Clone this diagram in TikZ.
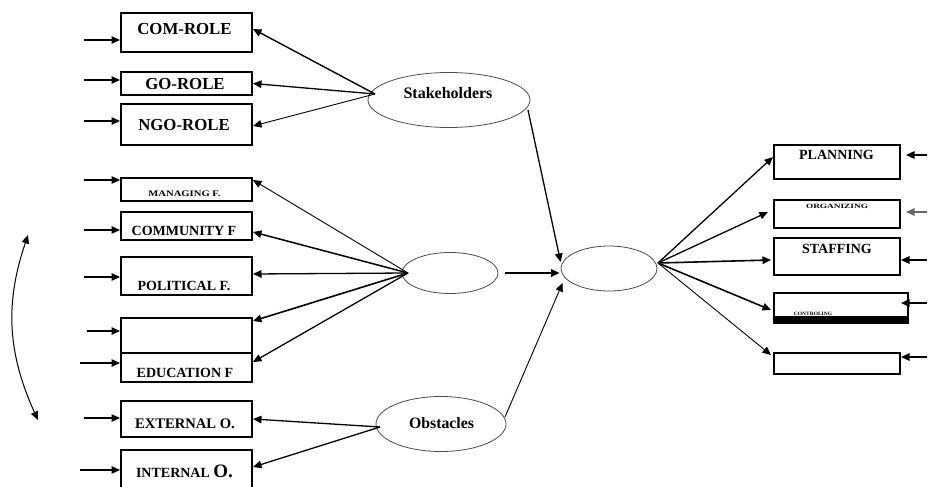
\documentclass[tikz,border=0pt]{standalone}
\usepackage{fontspec}
\setmainfont{Liberation Serif}
\usetikzlibrary{arrows.meta,shapes.geometric}
\tikzset{
  box/.style={draw, line width=2pt, inner sep=0pt, fill=white},
  oval/.style={ellipse, draw=black!70, line width=0.8pt, inner sep=0pt},
  arr/.style={-{Triangle[length=8.5pt,width=7.5pt]}, line width=1.3pt},
  thinarr/.style={-{Triangle[length=8.5pt,width=7.5pt]}, line width=0.9pt},
  lbl/.style={anchor=base, inner sep=0pt, font=\bfseries},
}
\begin{document}
\begin{tikzpicture}[x=1pt,y=-1pt]
\clip (0,0) rectangle (930,487);
\fill[white] (0,0) rectangle (930,487);

% left boxes
\node[box, minimum width=131pt, minimum height=39pt] (com) at (186.5,32.5) {};
\node[box, minimum width=131pt, minimum height=23pt] (go) at (186.5,83.5) {};
\node[box, minimum width=131pt, minimum height=41pt] (ngo) at (186.5,124.5) {};
\node[box, minimum width=131pt, minimum height=23pt] (man) at (186.5,189.5) {};
\node[box, minimum width=131pt, minimum height=28pt] (comm) at (186.5,226) {};
\node[box, minimum width=131pt, minimum height=38pt] (pol) at (186.5,276) {};
\node[box, minimum width=131pt, minimum height=35pt] (blank) at (186.5,335.5) {};
\node[box, minimum width=131pt, minimum height=29pt] (edu) at (186.5,367.5) {};
\node[box, minimum width=131pt, minimum height=36pt] (ext) at (186.5,419) {};
\node[box, minimum width=131pt, minimum height=45pt] (int) at (186.5,472.5) {};

\node[lbl, font=\fontsize{16.8}{18}\selectfont\bfseries] (tcom) at (184.5,35) {COM-ROLE};
\node[lbl, font=\fontsize{16.8}{18}\selectfont\bfseries] (tgo) at (185,90) {GO-ROLE};
\node[lbl, font=\fontsize{16.8}{18}\selectfont\bfseries] (tngo) at (184,130) {NGO-ROLE};
\node[lbl, font=\fontsize{8.5}{10}\selectfont\bfseries] (tman) at (184.5,196) {\scalebox{1.25}[1]{MANAGING F.}};
\node[lbl, font=\fontsize{14}{15}\selectfont\bfseries] (tcomm) at (184,235) {COMMUNITY F};
\node[lbl, font=\fontsize{14}{15}\selectfont\bfseries] (tpol) at (184,290) {POLITICAL F.};
\node[lbl, font=\fontsize{14}{15}\selectfont\bfseries] (tedu) at (185,377) {EDUCATION F};
\node[lbl, font=\fontsize{14.6}{16}\selectfont\bfseries] (text) at (185,428) {EXTERNAL O.};
\node[lbl, font=\fontsize{14}{16}\selectfont\bfseries] (tint) at (184.5,477) {INTERNAL {\fontsize{19}{20}\selectfont O.}};

% ellipses
\node[oval, minimum width=162pt, minimum height=55pt] (stake) at (449,100) {};
\node[lbl, font=\fontsize{16}{18}\selectfont\bfseries] (tstake) at (448,99) {Stakeholders};
\node[oval, minimum width=96pt, minimum height=41pt] (mid) at (450,273) {};
\node[oval, minimum width=130pt, minimum height=55pt] (obst) at (441,424) {};
\node[lbl, font=\fontsize{15.8}{18}\selectfont\bfseries] (tobst) at (441.5,428) {Obstacles};
\node[oval, minimum width=96pt, minimum height=45pt] (cen) at (609,268.5) {};

% right boxes
\node[box, minimum width=126pt, minimum height=34pt] (plan) at (837,162) {};
\node[box, minimum width=126pt, minimum height=28pt] (org) at (837,214) {};
\node[box, minimum width=126pt, minimum height=37pt] (staf) at (837,256.5) {};
\node[box, minimum width=134pt, minimum height=30pt] (ctrl) at (841,308) {};
\fill (774,316) rectangle (908,323);
\node[box, minimum width=126pt, minimum height=21pt] (dir) at (837,363.5) {};

\node[lbl, font=\fontsize{14}{15}\selectfont\bfseries] (tplan) at (836.5,159) {PLANNING};
\node[lbl, font=\fontsize{6.5}{8}\selectfont\bfseries] (torg) at (837,208) {\scalebox{1.43}[1]{ORGANIZING}};
\node[lbl, font=\fontsize{14}{15}\selectfont\bfseries] (tstaf) at (837,253) {STAFFING};
\node[lbl, font=\fontsize{5}{6}\selectfont\bfseries] (tctrl) at (813,315) {\scalebox{1.1}[1]{CONTROLING}};

% convergence points
\coordinate (sL) at (375,94);
\coordinate (mL) at (408,273);
\coordinate (oL) at (380,427);
\coordinate (cR) at (658,263);

% stakeholders connectors
\draw[arr, line width=1.4pt] (sL) -- ([yshift=3.5pt]com.east);
\draw[arr] (sL) -- (go.east);
\draw[thinarr] (sL) -- ([yshift=-1.5pt]ngo.east);

% factors connectors
\draw[thinarr] (mL) -- ([yshift=9.5pt]man.east);
\draw[arr, line width=1.5pt] (mL) -- ([yshift=-6pt]comm.east);
\draw[arr] (mL) -- ([yshift=2pt]pol.east);
\draw[arr, line width=1.6pt] (mL) -- ([yshift=14.5pt]blank.east);
\draw[arr] (mL) -- ([yshift=5.5pt]edu.east);

% obstacles connectors
\draw[arr] (oL) -- (ext.east);
\draw[arr] (oL) -- ([yshift=5.5pt]int.east);

% into central
\coordinate (s1) at (528,110);
\coordinate (m1) at (505,273);
\coordinate (o1) at (505,417);
\draw[arr] (s1) -- ([yshift=6.5pt]cen.west);
\draw[arr, line width=1.5pt] (m1) -- ([yshift=-4.5pt,xshift=-1pt]cen.west);
\draw[thinarr] (o1) -- ([yshift=-14.5pt,xshift=2pt]cen.west);

% central to right boxes
\draw[arr] (cR) -- ([yshift=5pt]plan.west);
\draw[arr] (cR) -- ([yshift=2pt,xshift=-5pt]org.west);
\draw[arr, line width=1.6pt] (cR) -- ([yshift=-3.5pt,xshift=-2pt]staf.west);
\draw[arr, line width=1.6pt] (cR) -- ([yshift=-2pt,xshift=-2pt]ctrl.west);
\draw[thinarr] (cR) -- ([yshift=8.5pt,xshift=-2pt]dir.west);

% left input arrows
\foreach \b/\y/\x in {com/40/84, go/80/84, ngo/121/84, man/180/84, comm/230/84, pol/277/84, blank/331/87, edu/363/80, ext/418/84, int/470/80}{
  \coordinate (in-\b) at (\x,\y);
  \draw[arr] (in-\b) -- (\b.west |- in-\b);
}

% right input arrows
\coordinate (r-plan) at (927,155);
\coordinate (r-org) at (927,212);
\coordinate (r-staf) at (927,260);
\coordinate (r-ctrl) at (927,303);
\coordinate (r-dir) at (927,357);
\draw[arr] (r-plan) -- ([xshift=5pt]plan.east |- r-plan);
\draw[arr, draw=black!60] (r-org) -- ([xshift=5pt]org.east |- r-org);
\draw[arr] (r-staf) -- (staf.east |- r-staf);
\draw[arr] (r-ctrl) -- ([xshift=-8pt]ctrl.east |- r-ctrl);
\draw[arr] (r-dir) -- (dir.east |- r-dir);

% curved double arrow
\coordinate (cTop) at (28,235);
\coordinate (cBot) at (38,420);
\draw[{Triangle[length=8.5pt,width=7.5pt]}-{Triangle[length=8.5pt,width=7.5pt]}, line width=1pt]
  (cTop) .. controls (6,300) and (6,350) .. (cBot);
\end{tikzpicture}
\end{document}
